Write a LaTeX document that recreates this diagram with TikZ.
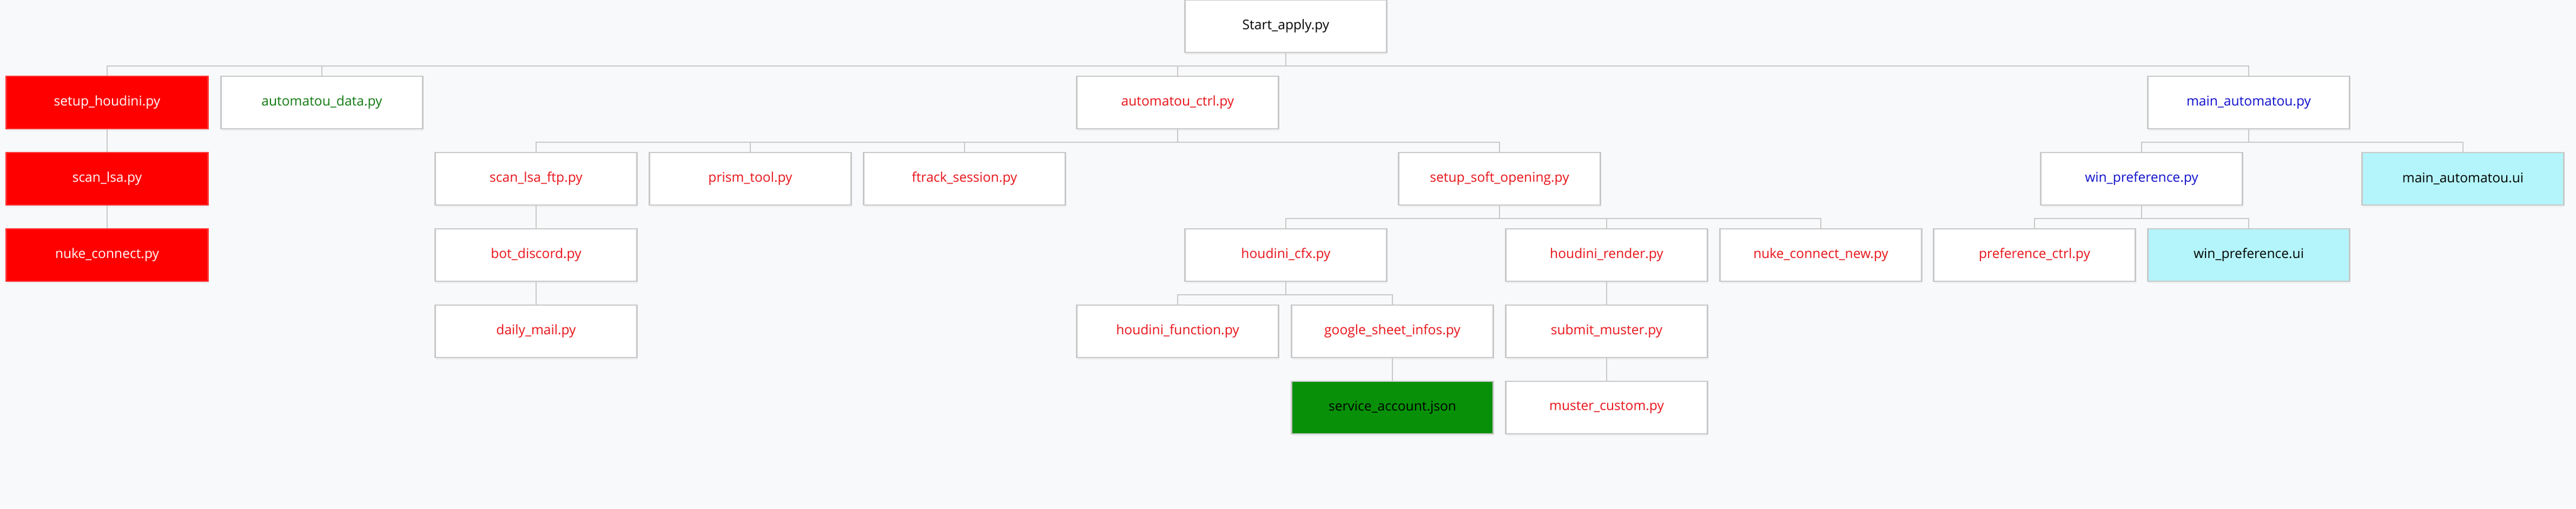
\documentclass[tikz,border=0pt]{standalone}
\usepackage{fontspec}
\setmainfont{Open Sans}
\usetikzlibrary{shadows}
\definecolor{bg}{HTML}{F8F9FB}
\definecolor{edgegray}{HTML}{C8C8C8}
\definecolor{pyred}{HTML}{E8141A}
\definecolor{pygreen}{HTML}{107A10}
\definecolor{pyblue}{HTML}{1010CC}
\definecolor{uicyan}{HTML}{B3F5FA}
\definecolor{jsongreen}{HTML}{089108}
\tikzset{
  file/.style={draw=edgegray, line width=0.6pt, fill=white, minimum width=3.73cm,
    minimum height=0.97cm, inner sep=0pt, font=\fontsize{7}{8}\selectfont,
    drop shadow={shadow xshift=0.3pt, shadow yshift=-1.2pt, opacity=0.08}},
  red file/.style={file, fill=red, draw=red!80!white, text=white},
  link/.style={draw=edgegray, line width=0.6pt}
}
\begin{document}
\begin{tikzpicture}
\fill[bg] (0,0) rectangle (47.62,-9.40);
\useasboundingbox (0,0) rectangle (47.62,-9.40);

% row 0
\node[file] (start) at (23.77,-0.485) {Start\_apply.py};

% row 1
\node[red file] (setuphou) at (1.98,-1.895) {setup\_houdini.py};
\node[file, text=pygreen] (autodata) at (5.95,-1.895) {automatou\_data.py};
\node[file, text=pyred] (autoctrl) at (21.77,-1.895) {automatou\_ctrl.py};
\node[file, text=pyblue] (mainauto) at (41.57,-1.895) {main\_automatou.py};

% row 2
\node[red file] (scanlsa) at (1.98,-3.305) {scan\_lsa.py};
\node[file, text=pyred] (scanftp) at (9.91,-3.305) {scan\_lsa\_ftp.py};
\node[file, text=pyred] (prism) at (13.87,-3.305) {prism\_tool.py};
\node[file, text=pyred] (ftrack) at (17.83,-3.305) {ftrack\_session.py};
\node[file, text=pyred] (softopen) at (27.72,-3.305) {setup\_soft\_opening.py};
\node[file, text=pyblue] (winpref) at (39.59,-3.305) {win\_preference.py};
\node[file, fill=uicyan] (mainui) at (45.53,-3.305) {main\_automatou.ui};

% row 3
\node[red file] (nukecon) at (1.98,-4.715) {nuke\_connect.py};
\node[file, text=pyred] (botdisc) at (9.91,-4.715) {bot\_discord.py};
\node[file, text=pyred] (houcfx) at (23.77,-4.715) {houdini\_cfx.py};
\node[file, text=pyred] (hourend) at (29.70,-4.715) {houdini\_render.py};
\node[file, text=pyred] (nukenew) at (33.66,-4.715) {nuke\_connect\_new.py};
\node[file, text=pyred] (prefctrl) at (37.61,-4.715) {preference\_ctrl.py};
\node[file, fill=uicyan] (prefui) at (41.57,-4.715) {win\_preference.ui};

% row 4
\node[file, text=pyred] (dailymail) at (9.91,-6.125) {daily\_mail.py};
\node[file, text=pyred] (houfunc) at (21.77,-6.125) {houdini\_function.py};
\node[file, text=pyred] (gsheet) at (25.74,-6.125) {google\_sheet\_infos.py};
\node[file, text=pyred] (submit) at (29.70,-6.125) {submit\_muster.py};

% row 5
\node[file, fill=jsongreen, draw=edgegray] (svcacc) at (25.74,-7.535) {service\_account.json};
\node[file, text=pyred] (mustcust) at (29.70,-7.535) {muster\_custom.py};

% connectors
\begin{scope}[on background layer/.try]
\foreach \p/\c in {start/setuphou, start/autodata, start/autoctrl, start/mainauto,
    setuphou/scanlsa, scanlsa/nukecon,
    autoctrl/scanftp, autoctrl/prism, autoctrl/ftrack, autoctrl/softopen,
    scanftp/botdisc, botdisc/dailymail,
    softopen/houcfx, softopen/hourend, softopen/nukenew,
    houcfx/houfunc, houcfx/gsheet, gsheet/svcacc,
    hourend/submit, submit/mustcust,
    mainauto/winpref, mainauto/mainui,
    winpref/prefctrl, winpref/prefui}
  \draw[link] (\p.south) -- ++(0,-0.24) -| (\c.north);
\end{scope}
\end{tikzpicture}
\end{document}
